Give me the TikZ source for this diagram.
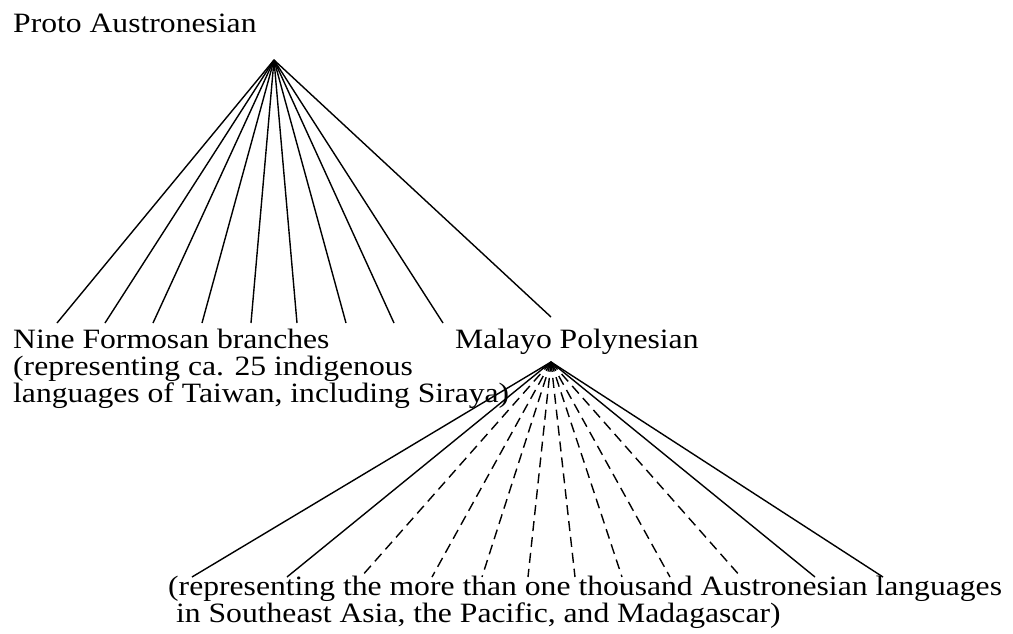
\documentclass[tikz,border=0pt]{standalone}
\usepackage{fontspec}
\setmainfont{Liberation Serif}[FakeStretch=1.13]
\usepackage{tikz}
\usetikzlibrary{positioning, arrows.meta, calc}

\begin{document}
\begin{tikzpicture}[
  x=1pt,y=-1pt,
  lang/.style={anchor=base west,inner sep=0pt,align=left,
               font=\fontsize{28}{27}\selectfont},
  branch/.style={line width=1.4pt},
  guess/.style={branch,dash pattern=on 10pt off 6pt},
  >=Stealth]
  \useasboundingbox (0,0) rectangle (1013,633);
  \node[lang] (PA) at (13,32) {Proto Austronesian};
  \node[lang] (FB) at (13,402) {Nine Formosan branches\\(representing ca. 25 indigenous\\languages of Taiwan, including Siraya)};
  \node[lang] (MP) at (455,348) {Malayo Polynesian};
  \node[lang] (MPnote) at (168,622) {(representing the more than one thousand Austronesian languages\\\ in Southeast Asia, the Pacific, and Madagascar)};
  \coordinate (pa) at (274,60);
  \coordinate (mp) at (551,317);
  \coordinate (mpa) at (551,362);
  \foreach \x [count=\i] in {57,105,153,202,251,297,346,394,443}
    \draw[branch] (pa) -- (\x,323) coordinate (f\i);
  \draw[branch] (pa) -- (mp);
  \foreach \x [count=\i] in {192,287,815,883}
    \draw[branch] (mpa) -- (\x,577) coordinate (s\i);
  \foreach \x [count=\i] in {361,432,482,528,575,622,670,741}
    \draw[guess] (mpa) -- (\x,577) coordinate (d\i);
\end{tikzpicture}
\end{document}
